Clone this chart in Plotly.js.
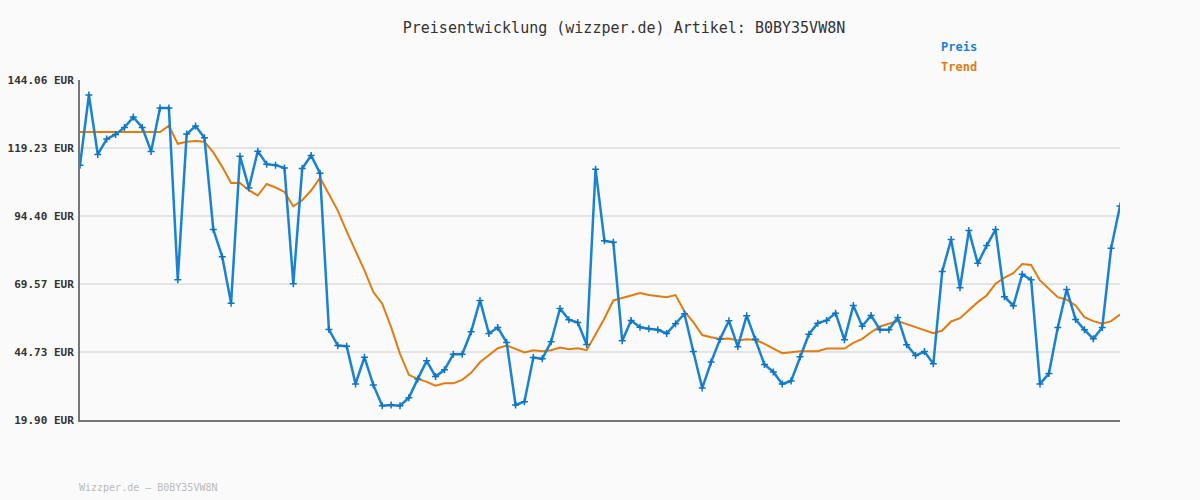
<!DOCTYPE html>
<html>
<head>
<meta charset="utf-8">
<script src="https://cdn.plot.ly/plotly-3.0.1.min.js"></script>
<style>html,body{margin:0;padding:0;background:#fafafa;}#chart{width:1200px;height:500px;}</style>
</head>
<body>
<div id="chart"></div>
<script>
const preis = [112.96,138.57,116.87,122.47,124.19,126.75,130.52,126.75,117.97,133.81,
133.81,71.14,124.30,127.23,122.95,89.43,79.55,62.57,116.25,104.65,
118.08,113.32,112.96,111.97,69.67,111.75,116.51,110.03,52.95,47.10,
46.84,33.08,42.81,32.72,25.14,25.40,25.14,28.07,34.91,41.50,
35.75,38.21,43.91,43.91,52.11,63.56,51.49,53.68,48.19,25.40,
26.61,42.71,42.23,48.45,60.63,56.50,55.51,47.46,111.49,85.33,
84.78,48.85,56.24,53.79,53.24,52.84,51.49,55.04,58.69,44.90,
31.55,41.06,49.40,56.17,46.62,58.00,49.40,40.14,37.47,33.08,
34.18,42.96,51.23,55.26,56.24,58.92,49.18,61.73,54.16,58.07,
52.84,52.84,57.34,47.35,43.44,44.90,40.40,74.17,85.77,68.21,
89.06,77.10,83.58,89.43,64.91,61.62,73.08,71.14,33.08,36.85,
53.68,67.59,56.61,52.84,49.55,53.68,82.59,98.07];
const trend = [125.03,125.03,125.03,125.03,125.03,125.03,125.03,125.03,125.03,125.03,
127.34,120.75,121.48,121.74,121.48,117.61,112.34,106.48,106.48,103.81,
101.87,106.08,104.80,103.19,97.96,100.15,103.70,108.31,102.46,96.38,
88.81,81.86,74.54,66.60,62.35,53.79,44.06,36.38,34.91,33.81,
32.46,33.30,33.30,34.55,37.11,40.99,43.44,46.11,47.10,45.74,
44.54,45.38,45.01,45.38,46.36,45.74,46.11,45.38,51.38,56.98,
63.56,64.37,65.46,66.23,65.57,65.10,64.73,65.50,59.54,55.62,
50.94,50.10,49.47,49.66,48.93,49.36,49.11,47.72,46.00,44.28,
44.64,45.01,45.01,45.01,46.00,46.11,46.00,48.08,49.55,51.96,
54.05,55.04,56.06,54.89,53.79,52.58,51.60,52.58,55.88,57.08,
59.90,62.94,65.39,69.67,71.87,73.55,76.84,76.48,70.88,67.84,
64.77,63.82,61.73,57.45,55.99,55.04,55.99,58.44];
const tickVals = [19.90, 44.73, 69.57, 94.40, 119.23, 144.06];
const tickText = ["19.90 EUR","44.73 EUR","69.57 EUR","94.40 EUR","119.23 EUR","144.06 EUR"];
const seriesNames = ["Preis", "Trend"];
const titleText = "Preisentwicklung (wizzper.de) Artikel: B0BY35VW8N";
const footerText = "Wizzper.de – B0BY35VW8N";

const idx = preis.map((_, i) => i);
const mono = "DejaVu Sans Mono, Liberation Mono, monospace";
const blue = "#1a82cf", orange = "#e07c12";

const data = [
  {x: idx, y: trend, type: "scatter", mode: "lines", name: seriesNames[1],
   line: {color: orange, width: 2}, hoverinfo: "skip"},
  {x: idx, y: preis, type: "scatter", mode: "lines+markers", name: seriesNames[0],
   line: {color: blue, width: 2.5},
   marker: {symbol: "cross-thin", size: 5, color: "#0f74c4", line: {color: "#0f74c4", width: 1.5}}}
];

const layout = {
  width: 1200, height: 500,
  paper_bgcolor: "#fafafa", plot_bgcolor: "#fafafa",
  margin: {l: 80, r: 80, t: 80, b: 80},
  showlegend: false,
  title: {text: titleText, x: 0.52, xanchor: "center", xref: "container",
          y: 1 - 28/500, yanchor: "middle", yref: "container",
          font: {family: mono, size: 15, color: "#333"}},
  xaxis: {range: [0, preis.length - 1], showgrid: false, zeroline: false,
          showticklabels: false, ticks: "", showline: true, linecolor: "#777", linewidth: 2,
          fixedrange: true},
  yaxis: {range: [19.90, 144.06], tickvals: tickVals, ticktext: tickText,
          showgrid: true, gridcolor: "#e4e4e4", gridwidth: 2, zeroline: false,
          showline: true, linecolor: "#777", linewidth: 2, ticks: "",
          tickfont: {family: mono, size: 11, color: "#333", weight: "bold"},
          ticklabelstandoff: 2},
  annotations: [
    {text: "<b>" + seriesNames[0] + "</b>", xref: "paper", yref: "paper", x: (939-80)/1040, y: (420-47)/340,
     xanchor: "left", yanchor: "middle", showarrow: false, font: {family: mono, size: 12, color: blue}},
    {text: "<b>" + seriesNames[1] + "</b>", xref: "paper", yref: "paper", x: (939-80)/1040, y: (420-67)/340,
     xanchor: "left", yanchor: "middle", showarrow: false, font: {family: mono, size: 12, color: orange}},
    {text: footerText, xref: "paper", yref: "paper", x: -0.003, y: -(487-420)/340,
     xanchor: "left", yanchor: "middle", showarrow: false, font: {family: mono, size: 10, color: "#bbb"}}
  ]
};
Plotly.newPlot("chart", data, layout, {displayModeBar: false, staticPlot: true});
</script>
</body>
</html>
